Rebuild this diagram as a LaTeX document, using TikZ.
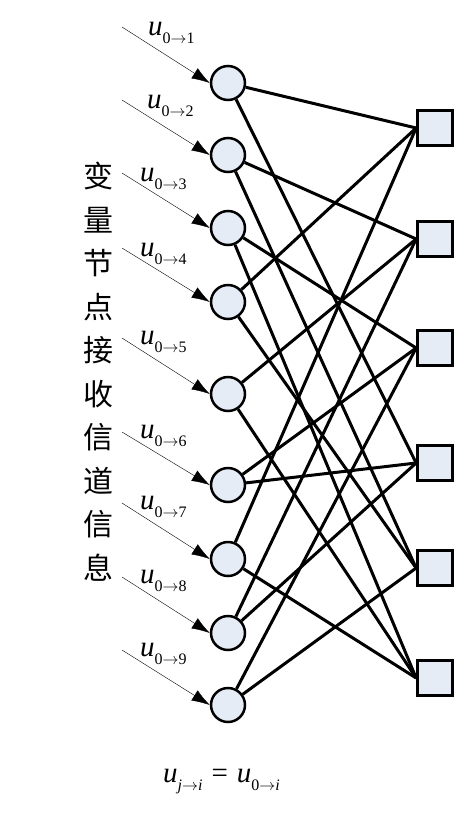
\RequirePackage{fix-cm}
\documentclass[tikz,border=0pt]{standalone}
\usepackage{fontspec}
\newfontfamily\cjk{Noto Sans CJK SC}
\newfontfamily\tnr{Liberation Serif}
\usepackage{tikz}
\usetikzlibrary{positioning, calc, arrows.meta}
\definecolor{nodefill}{RGB}{230,236,246}
\newcommand{\Msg}[2]{{\itshape u}\raisebox{-8pt}{\fontsize{16}{16}\selectfont #1$\to$#2}}

\begin{document}
\begin{tikzpicture}[x=1pt, y=-1pt, >={Latex[length=18pt,width=12pt]},
    var/.style={circle, draw, line width=2.5pt, fill=nodefill, minimum size=34pt, inner sep=0pt},
    chk/.style={rectangle, draw, line width=2.7pt, fill=nodefill, minimum size=35pt, inner sep=0pt},
    edge/.style={line width=3pt},
    msg/.style={font=\tnr\fontsize{29}{30}\selectfont, anchor=base west, inner sep=0pt}]

    \useasboundingbox (0,0) rectangle (461,820);

    % variable nodes
    \draw(228,83) node[var] (v1) {};
    \draw(228,155) node[var] (v2) {};
    \draw(228,228) node[var] (v3) {};
    \draw(228,302) node[var] (v4) {};
    \draw(228,394) node[var] (v5) {};
    \draw(228,485) node[var] (v6) {};
    \draw(228,559) node[var] (v7) {};
    \draw(228,633) node[var] (v8) {};
    \draw(228,705) node[var] (v9) {};

    % check nodes
    \draw(435,128) node[chk] (c1) {};
    \draw(435,239) node[chk] (c2) {};
    \draw(435,348) node[chk] (c3) {};
    \draw(435,463) node[chk] (c4) {};
    \draw(435,568) node[chk] (c5) {};
    \draw(435,678) node[chk] (c6) {};

    % channel messages
    \coordinate (s1) at ($(v1)+(-106,-56)$);
    \coordinate (s2) at ($(v2)+(-106,-55)$);
    \coordinate (s3) at ($(v3)+(-106,-55)$);
    \coordinate (s4) at ($(v4)+(-106,-54)$);
    \coordinate (s5) at ($(v5)+(-106,-56)$);
    \coordinate (s6) at ($(v6)+(-106,-53)$);
    \coordinate (s7) at ($(v7)+(-106,-56)$);
    \coordinate (s8) at ($(v8)+(-106,-56)$);
    \coordinate (s9) at ($(v9)+(-106,-55)$);
    \draw[->] (s1) -- (v1.west);
    \draw[->] (s2) -- (v2.west);
    \draw[->] (s3) -- (v3.west);
    \draw[->] (s4) -- (v4.west);
    \draw[->] (s5) -- (v5.west);
    \draw[->] (s6) -- (v6.west);
    \draw[->] (s7) -- (v7.west);
    \draw[->] (s8) -- (v8.west);
    \draw[->] (s9) -- (v9.west);
    \node[msg] (m1) at ($(s1)+(26,8)$) {\Msg{0}{1}};
    \node[msg] (m2) at ($(s2)+(25,8)$) {\Msg{0}{2}};
    \node[msg] (m3) at ($(s3)+(18,8)$) {\Msg{0}{3}};
    \node[msg] (m4) at ($(s4)+(18,8)$) {\Msg{0}{4}};
    \node[msg] (m5) at ($(s5)+(18,6)$) {\Msg{0}{5}};
    \node[msg] (m6) at ($(s6)+(18,6)$) {\Msg{0}{6}};
    \node[msg] (m7) at ($(s7)+(18,6)$) {\Msg{0}{7}};
    \node[msg] (m8) at ($(s8)+(18,6)$) {\Msg{0}{8}};
    \node[msg] (m9) at ($(s9)+(18,6)$) {\Msg{0}{9}};

    % Tanner graph edges
    \draw[edge] (v1) -- (c1.west);
    \draw[edge] (v1) -- (c4.west);
    \draw[edge] (v2) -- (c2.west);
    \draw[edge] (v2) -- (c5.west);
    \draw[edge] (v3) -- (c3.west);
    \draw[edge] (v3) -- (c6.west);
    \draw[edge] (v4) -- (c1.west);
    \draw[edge] (v4) -- (c5.west);
    \draw[edge] (v5) -- (c2.west);
    \draw[edge] (v5) -- (c6.west);
    \draw[edge] (v6) -- (c3.west);
    \draw[edge] (v6) -- (c4.west);
    \draw[edge] (v7) -- (c1.west);
    \draw[edge] (v7) -- (c6.west);
    \draw[edge] (v8) -- (c2.west);
    \draw[edge] (v8) -- (c4.west);
    \draw[edge] (v9) -- (c3.west);
    \draw[edge] (v9) -- (c5.west);

    \node[align=center, font=\cjk\fontsize{30}{43.5}\selectfont, anchor=north, inner sep=0pt]
        (title) at (98,162) {变\\量\\节\\点\\接\\收\\信\\道\\信\\息};

    \node[msg] (rule) at (163,782)
        {\Msg{\textit{j}}{\textit{i}}\hspace{9pt}=\hspace{9pt}\Msg{0}{\textit{i}}};

\end{tikzpicture}
\end{document}
